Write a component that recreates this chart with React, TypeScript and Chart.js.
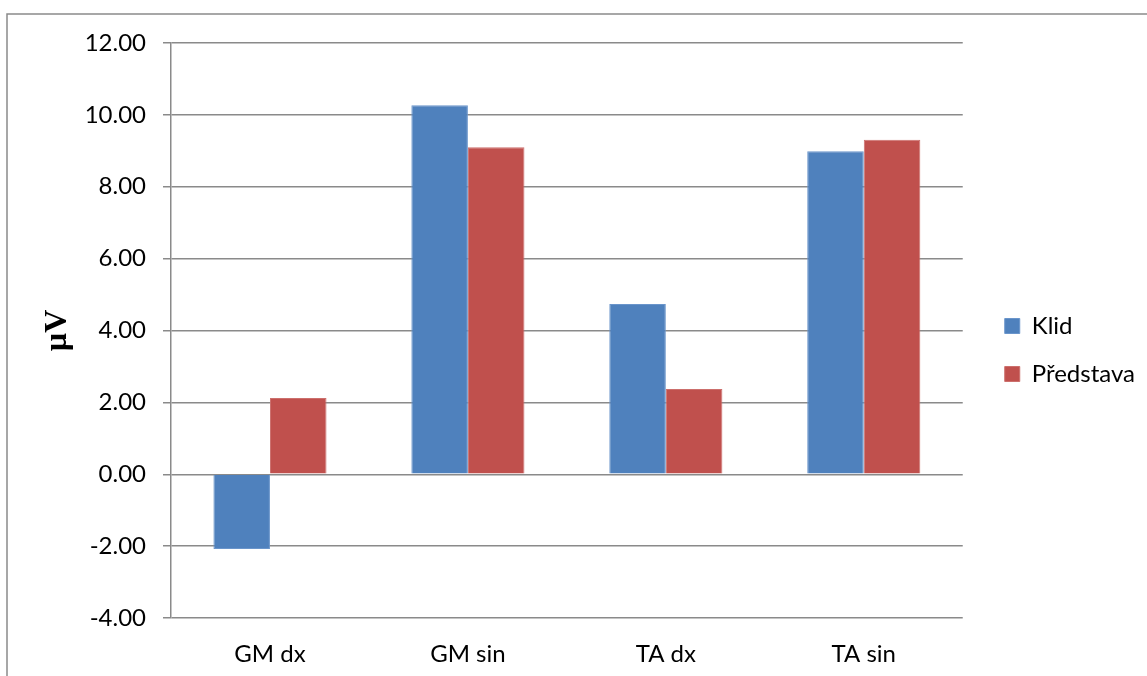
import { useEffect, useRef } from "react";
import { Chart, registerables } from "chart.js";

Chart.register(...registerables);

// Data
const categories = ["GM dx", "GM sin", "TA dx", "TA sin"];
const seriesNames = ["Klid", "Představa"];
const klid = [-2.08, 10.27, 4.74, 8.99];
const predstava = [2.12, 9.1, 2.37, 9.31];
const yTicks = [-4, -2, 0, 2, 4, 6, 8, 10, 12];
const yTitle = "µV";

const colors = ["#4F81BD", "#C0504D"];
const edgeColors = ["#6A95CB", "#CC6F6C"];

const W = 1147;
const H = 676;
const FONT = "Lato, 'Open Sans', sans-serif";
const FONT_SIZE = 24;

// White background and the outer frame of the chart object
const framePlugin = {
  id: "frame",
  beforeDraw(chart: any) {
    const ctx = chart.ctx;
    ctx.save();
    ctx.fillStyle = "#ffffff";
    ctx.fillRect(0, 0, chart.width, chart.height);
    ctx.strokeStyle = "#8a8a8a";
    ctx.lineWidth = 1.5;
    ctx.beginPath();
    ctx.moveTo(7, chart.height);
    ctx.lineTo(7, 14);
    ctx.lineTo(chart.width, 14);
    ctx.stroke();
    ctx.restore();
  },
};

// Move the legend away from the plot area and up a little
const legendPlacement = {
  id: "legendPlacement",
  afterLayout(chart: any) {
    const lg = chart.legend;
    if (lg) {
      lg.left += 18;
      lg.right += 18;
      lg.top -= 9.5;
      lg.bottom -= 9.5;
    }
  },
};

export default function App() {
  const ref = useRef<HTMLCanvasElement | null>(null);

  useEffect(() => {
    if (!ref.current) return;
    const chart = new Chart(ref.current, {
      type: "bar",
      data: {
        labels: categories,
        datasets: [
          {
            label: seriesNames[0],
            data: klid,
            backgroundColor: colors[0],
            borderColor: edgeColors[0],
            borderWidth: 1,
          },
          {
            label: seriesNames[1],
            data: predstava,
            backgroundColor: colors[1],
            borderColor: edgeColors[1],
            borderWidth: 1,
          },
        ],
      },
      options: {
        animation: false,
        responsive: false,
        maintainAspectRatio: false,
        layout: { padding: { left: 20, top: 43, right: 20, bottom: 0 } },
        datasets: {
          bar: { categoryPercentage: 2 / 3.5, barPercentage: 1 },
        },
        plugins: {
          tooltip: { enabled: false },
          legend: {
            position: "right",
            labels: {
              boxWidth: 15,
              boxHeight: 15,
              padding: 24,
              color: "#000",
              font: { family: FONT, size: FONT_SIZE },
            },
          },
        },
        scales: {
          x: {
            grid: { display: false, drawTicks: false },
            border: { display: false },
            ticks: {
              color: "#000",
              padding: 22,
              font: { family: FONT, size: FONT_SIZE },
              maxRotation: 0,
            },
            afterFit(scale: any) {
              scale.height = 58;
            },
          },
          y: {
            min: yTicks[0],
            max: yTicks[yTicks.length - 1],
            afterBuildTicks(scale: any) {
              scale.ticks = yTicks.map((v) => ({ value: v }));
            },
            grid: {
              color: "#8a8a8a",
              lineWidth: 1.5,
              drawTicks: true,
              tickLength: 8,
            },
            border: { display: true, color: "#8a8a8a", width: 1.5 },
            ticks: {
              color: "#000",
              padding: 17,
              font: { family: FONT, size: FONT_SIZE },
              callback: (v: any) => Number(v).toFixed(2),
            },
            title: {
              display: true,
              text: yTitle,
              color: "#000",
              padding: { top: 19, bottom: 0 },
              font: { family: "'Liberation Serif', 'Times New Roman', serif", size: 32, weight: "bold" },
            },
            afterFit(scale: any) {
              scale.width = 151;
            },
          },
        },
      },
      plugins: [framePlugin, legendPlacement],
    });
    return () => chart.destroy();
  }, []);

  return (
    <div style={{ position: "absolute", left: 0, top: 0, width: W, height: H, background: "#fff" }}>
      <canvas ref={ref} width={W} height={H} style={{ display: "block" }} />
    </div>
  );
}
